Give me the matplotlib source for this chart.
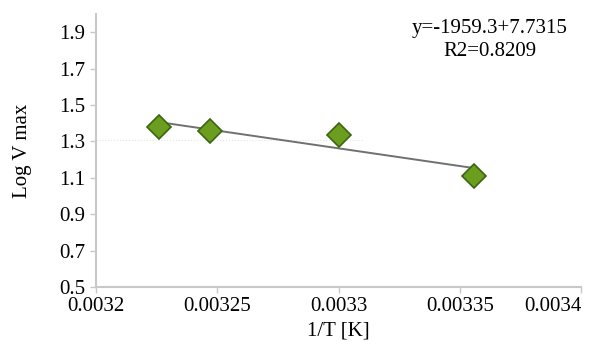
import numpy as np
import matplotlib.pyplot as plt

# datos
inv_T = [0.003226, 0.003247, 0.003300, 0.003356]
log_vmax = [1.38, 1.358, 1.336, 1.112]
x_ticks = [0.0032, 0.00325, 0.0033, 0.00335, 0.0034]
x_labels = ['0.0032', '0.00325', '0.0033', '0.00335', '0.0034']
y_ticks = [0.5, 0.7, 0.9, 1.1, 1.3, 1.5, 1.7, 1.9]

plt.rcParams['font.family'] = ['Liberation Serif', 'DejaVu Serif']
plt.rcParams['font.size'] = 15

fig = plt.figure(figsize=(5.93, 3.46), dpi=100)
ax = fig.add_axes([0.162, 0.1705, 0.818, 0.789])

# linea punteada tenue de fondo
ax.plot([0.0032, 0.00331], [1.31, 1.31], color='#e4e4e4', lw=0.8, ls=':', zorder=1)

# linea de tendencia
m, b = np.polyfit(inv_T, log_vmax, 1)
xt = np.array([inv_T[0], inv_T[-1]])
ax.plot(xt, m * xt + b, color='#707070', lw=1.4, zorder=2)

ax.plot(inv_T, log_vmax, 'D', ms=12, color='#6b9e1f', mec='#3d6410', mew=1.2, zorder=3)

ax.set_xlim(0.0032, 0.0034)
ax.set_ylim(0.5, 2.0)
ax.set_xticks(x_ticks)
ax.set_xticklabels(x_labels)
ax.set_yticks(y_ticks)
ax.set_yticklabels([f'{v:.1f}' for v in y_ticks])

# ultima etiqueta alineada a la derecha para que quepa
ax.get_xticklabels()[-1].set_horizontalalignment('right')

for s in ['top', 'right']:
    ax.spines[s].set_visible(False)
for s in ['left', 'bottom']:
    ax.spines[s].set_color('#c8c8c8')
    ax.spines[s].set_linewidth(1.5)
ax.tick_params(colors='#c8c8c8', labelcolor='black', length=4, width=1)

ax.set_xlabel('1/T [K]', labelpad=4)
ax.set_ylabel('Log V max', labelpad=20)

fig.text(0.826, 0.918, 'y=-1959.3+7.7315', ha='center', va='center')
fig.text(0.826, 0.85, 'R2=0.8209', ha='center', va='center')

fig.savefig('out.png', dpi=100)
